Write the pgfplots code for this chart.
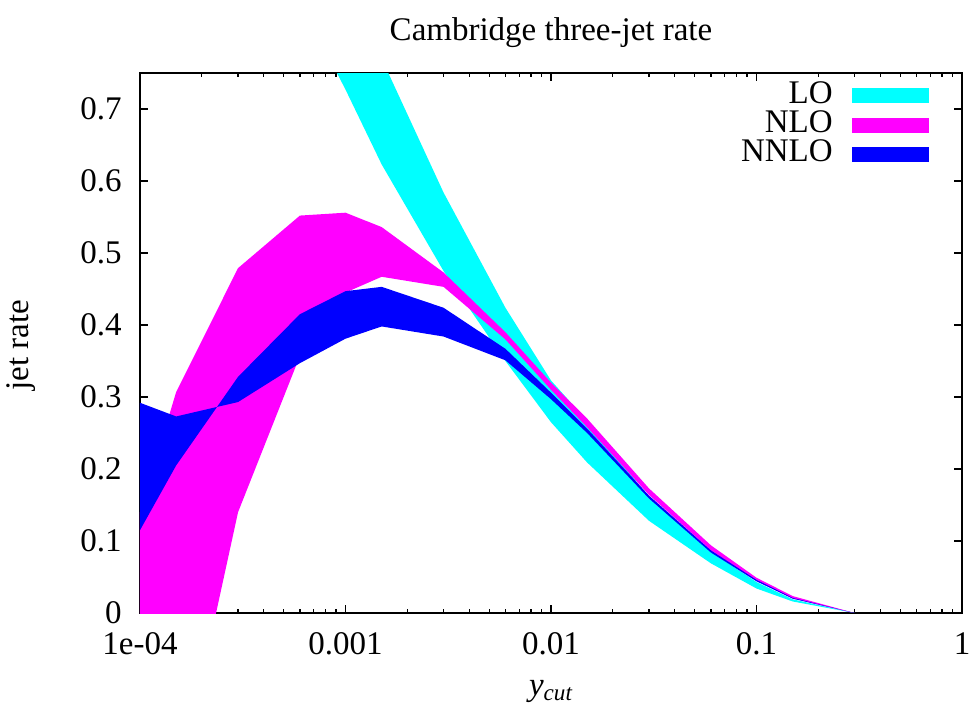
\documentclass[border=0pt]{standalone}
\usepackage{fontspec}
\setmainfont{Liberation Serif}
\usepackage{pgfplots}
\usepackage{pgfplotstable}
\pgfplotsset{compat=1.18}
\usepgfplotslibrary{fillbetween}

\definecolor{locol}{RGB}{0,255,255}
\definecolor{nlocol}{RGB}{255,0,255}
\definecolor{nnlocol}{RGB}{0,0,255}

% band edges (upper / lower scale choice) for LO, NLO, NNLO
\pgfplotstableread{
x       lou    lol    nlou   nlol    nnlou  nnlol
1e-4    1.80   1.45   0.140  -0.800  0.115  0.292
1.5e-4  1.60   1.30   0.307  -0.254  0.205  0.273
3e-4    1.30   1.05   0.479  0.140   0.328  0.293
6e-4    1.05   0.85   0.552  0.357   0.415  0.347
1e-3    0.89   0.727  0.556  0.445   0.447  0.381
1.5e-3  0.770  0.623  0.536  0.467   0.453  0.398
3e-3    0.584  0.475  0.473  0.453   0.424  0.384
6e-3    0.424  0.350  0.390  0.380   0.367  0.351
0.01    0.323  0.265  0.320  0.310   0.306  0.297
0.015   0.267  0.209  0.270  0.258   0.256  0.250
0.03    0.161  0.128  0.173  0.164   0.163  0.159
0.06    0.085  0.069  0.094  0.087   0.087  0.084
0.1     0.043  0.034  0.049  0.045   0.046  0.044
0.15    0.019  0.016  0.0235 0.020   0.021  0.020
0.3     0      0      0      0       0      0
}\jets

\begin{document}
\fontsize{16.5}{19}\selectfont
\begin{tikzpicture}
\begin{axis}[
  scale only axis,
  width=411pt, height=270pt,
  xmode=log,
  xmin=1e-4, xmax=1,
  ymin=0, ymax=0.75,
  xtick={1e-4,1e-3,1e-2,1e-1,1},
  xticklabels={1e-04,0.001,0.01,0.1,1},
  minor xtick={2e-4,3e-4,4e-4,5e-4,6e-4,7e-4,8e-4,9e-4,
               2e-3,3e-3,4e-3,5e-3,6e-3,7e-3,8e-3,9e-3,
               0.02,0.03,0.04,0.05,0.06,0.07,0.08,0.09,
               0.2,0.3,0.4,0.5,0.6,0.7,0.8,0.9},
  ytick={0,0.1,0.2,0.3,0.4,0.5,0.6,0.7},
  yticklabels={0,0.1,0.2,0.3,0.4,0.5,0.6,0.7},
  major tick length=4.2pt,
  minor tick length=2.2pt,
  every tick/.style={black, line width=0.6pt},
  axis line style={line width=0.8pt},
  xticklabel style={inner sep=0pt, anchor=north, yshift=-9.5pt},
  yticklabel style={inner sep=0pt, anchor=east, xshift=-9pt},
  title={Cambridge three-jet rate},
  title style={at={(0.5,1)}, anchor=base, yshift=10.5pt},
  xlabel={\textit{y\textsubscript{cut}}},
  xlabel style={at={(axis description cs:0.5,0)}, anchor=base, yshift=-41pt},
  ylabel={jet rate},
  ylabel style={at={(axis description cs:-0.1448,0.496)}, anchor=center},
  legend style={draw=none, fill=none, at={(0.96,0.984)}, anchor=north east,
                inner sep=0pt, column sep=9.5pt, row sep=1pt,
                nodes={inner sep=0pt, text height=10.5pt, text depth=3.2pt}},
  legend cell align=right,
  legend plot pos=right,
]
\addplot[name path=lou, draw=none, forget plot] table[x=x, y=lou] {\jets};
\addplot[name path=lol, draw=none, forget plot] table[x=x, y=lol] {\jets};
\addplot[fill=locol, draw=none,
  legend image code/.code={\fill[locol] (0pt,-3.75pt) rectangle (38.5pt,3.75pt);}]
  fill between[of=lou and lol];
\addlegendentry{LO}

\addplot[name path=nlou, draw=none, forget plot] table[x=x, y=nlou] {\jets};
\addplot[name path=nlol, draw=none, forget plot] table[x=x, y=nlol] {\jets};
\addplot[fill=nlocol, draw=none,
  legend image code/.code={\fill[nlocol] (0pt,-3.75pt) rectangle (38.5pt,3.75pt);}]
  fill between[of=nlou and nlol];
\addlegendentry{NLO}

\addplot[name path=nnlou, draw=none, forget plot] table[x=x, y=nnlou] {\jets};
\addplot[name path=nnlol, draw=none, forget plot] table[x=x, y=nnlol] {\jets};
\addplot[fill=nnlocol, draw=none,
  legend image code/.code={\fill[nnlocol] (0pt,-3.75pt) rectangle (38.5pt,3.75pt);}]
  fill between[of=nnlou and nnlol];
\addlegendentry{NNLO}
\end{axis}
\pgfresetboundingbox
\useasboundingbox (-70pt,-48pt) rectangle (418pt,306.5pt);
\end{tikzpicture}
\end{document}
